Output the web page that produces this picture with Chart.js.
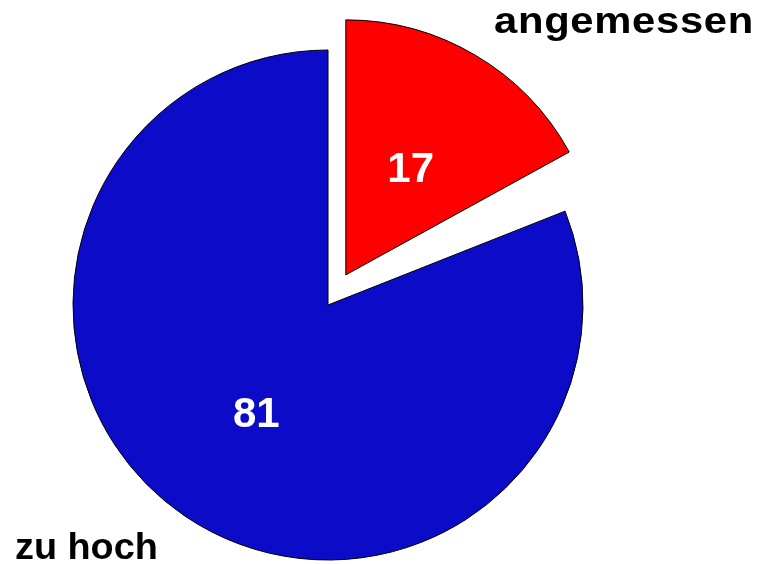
<!DOCTYPE html>
<html>
<head>
<meta charset="utf-8">
<script src="https://cdn.jsdelivr.net/npm/chart.js@4/dist/chart.umd.min.js"></script>
<style>
  html, body { margin: 0; padding: 0; background: #ffffff; }
  canvas { display: block; }
</style>
</head>
<body>
<canvas id="tortenChart" width="760" height="564"></canvas>
<script>
// Daten (Prozent); das 2%-Stück ist im Original nicht gezeichnet
var kategorien = ['angemessen', '', 'zu hoch'];
var werte = [17, 2, 81];
var farben = ['#ff0000', 'rgba(0,0,0,0)', '#0c0cc8'];
var randBreiten = [1, 0, 1];
var versatz = [35, 0, 0];          // herausgezogenes Stück, in Pixel
var zeigeWert = [true, false, true];

var zahlSchrift = "bold 42px 'Liberation Sans', Arial, Helvetica, sans-serif";
var textSchrift = "bold 36px 'Liberation Sans', Arial, Helvetica, sans-serif";

// Stücke verschieben (ohne die Radiuskorrektur von Chart.js)
var versatzPlugin = {
    id: 'versatz',
    afterUpdate: function(chart) {
        var meta = chart.getDatasetMeta(0);
        meta.data.forEach(function(arc, i) {
            if (!versatz[i]) return;
            var orig = Object.getPrototypeOf(arc).draw;
            arc.draw = function(ctx) {
                var mitte = (this.startAngle + this.endAngle) / 2;
                ctx.save();
                ctx.translate(Math.cos(mitte) * versatz[i], Math.sin(mitte) * versatz[i]);
                orig.call(this, ctx);
                ctx.restore();
            };
        });
    }
};

// gestreckter Text, wie im Original
function breiterText(ctx, text, x, y, sx, abstand) {
    ctx.save();
    ctx.translate(x, y);
    ctx.scale(sx, 1);
    ctx.letterSpacing = abstand + 'px';
    ctx.fillText(text, 0, 0);
    ctx.restore();
}

// Beschriftungen: Werte in den Stücken, Kategorien außen
var beschriftungPlugin = {
    id: 'beschriftung',
    afterDatasetsDraw: function(chart) {
        var ctx = chart.ctx;
        var meta = chart.getDatasetMeta(0);
        ctx.save();
        ctx.font = zahlSchrift;
        ctx.textAlign = 'center';
        ctx.textBaseline = 'alphabetic';
        ctx.fillStyle = '#ffffff';
        meta.data.forEach(function(arc, i) {
            if (!zeigeWert[i]) return;
            var mitte = (arc.startAngle + arc.endAngle) / 2;
            var r = arc.outerRadius / 2 + versatz[i];
            ctx.fillText(String(werte[i]), arc.x + Math.cos(mitte) * r, arc.y + Math.sin(mitte) * r + 17);
        });
        ctx.fillStyle = '#000000';
        ctx.font = textSchrift;
        ctx.textAlign = 'left';
        breiterText(ctx, kategorien[0], 494, 33, 1.16, 0.6);
        breiterText(ctx, kategorien[2], 15, 559, 1.05, 0);
        ctx.restore();
    }
};

new Chart(document.getElementById('tortenChart').getContext('2d'), {
    type: 'pie',
    data: {
        labels: kategorien,
        datasets: [{
            data: werte,
            backgroundColor: farben,
            borderColor: '#000000',
            borderWidth: randBreiten
        }]
    },
    options: {
        responsive: false,
        animation: false,
        radius: 255,
        layout: {
            padding: { left: 0, right: 104, top: 46, bottom: 0 }
        },
        plugins: {
            legend: { display: false },
            tooltip: { enabled: false }
        }
    },
    plugins: [versatzPlugin, beschriftungPlugin]
});
</script>
</body>
</html>
